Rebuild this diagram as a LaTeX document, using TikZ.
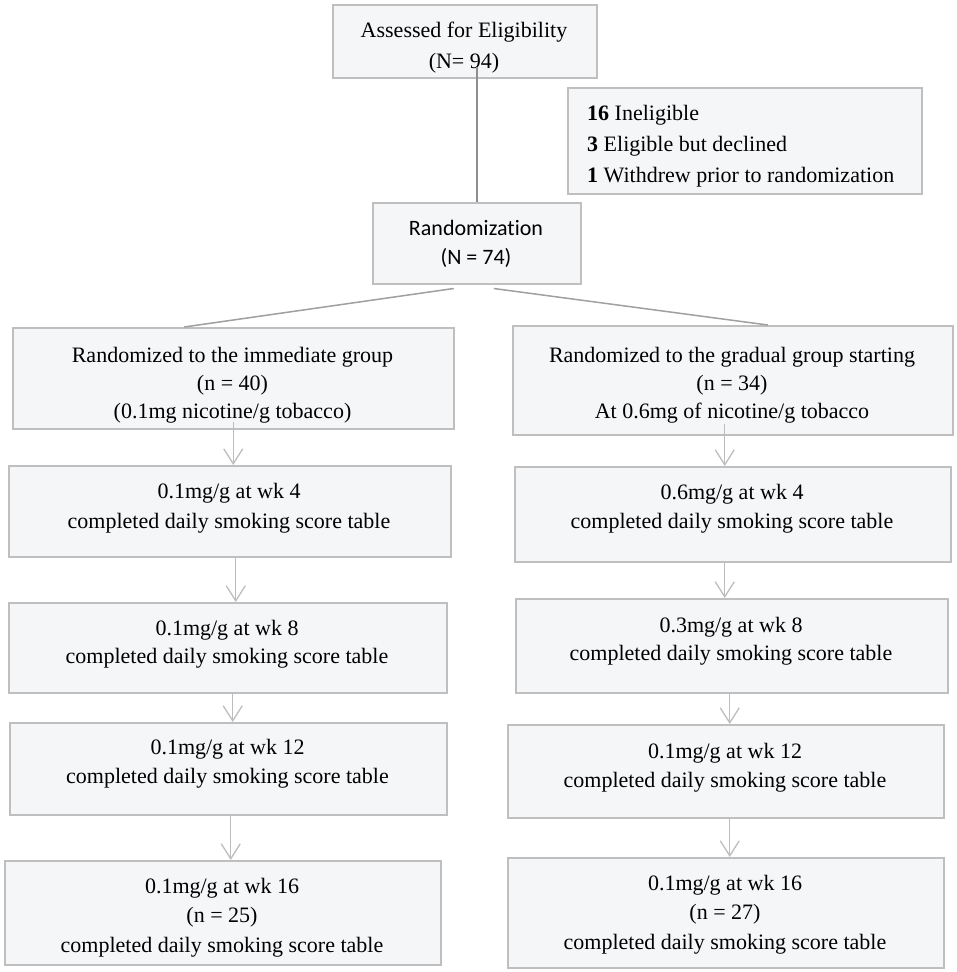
\documentclass[tikz,border=0pt]{standalone}
\usepackage{fontspec}
\setmainfont{Liberation Serif}
\newfontfamily\carlitofont[Ligatures=NoCommon]{Carlito}
\usetikzlibrary{arrows.meta}
\definecolor{boxfill}{HTML}{F5F6F8}
\definecolor{boxline}{HTML}{BFBFBF}
\definecolor{linkdark}{HTML}{8E8E8E}
\definecolor{linkmid}{HTML}{A0A0A0}
\definecolor{arrowgray}{HTML}{BDBDBD}
\newcommand\flowbox[5]{\node[box, minimum width={#4-#2}, minimum height={#5-#3}] (#1) at (#2,#3) {};}
\begin{document}
\begin{tikzpicture}[x=1pt,y=-1pt,
  box/.style={draw=boxline, fill=boxfill, line width=1.5pt, rectangle, inner sep=0pt, anchor=north west},
  txt/.style={inner sep=0pt, anchor=north, align=center, font=\fontsize{22}{#1}\selectfont},
  txt/.default=29,
  arr/.style={draw=arrowgray, line width=1.3pt, -{Straight Barb[length=15pt,width=19pt]}},
  joinline/.style={draw=linkmid, line width=1.5pt}
]
\useasboundingbox (0,0) rectangle (957,972);
% boxes
\flowbox{top}{332}{4}{596}{77}
\flowbox{excl}{567}{87}{921}{193}
\flowbox{rand}{372}{202}{580}{283}
\flowbox{L1}{12}{327}{453}{428}
\flowbox{R1}{512}{325}{952}{434}
\flowbox{L2}{8}{465}{450}{556}
\flowbox{R2}{514}{466}{950}{561}
\flowbox{L3}{8}{602}{446}{692}
\flowbox{R3}{515}{598}{947}{692}
\flowbox{L4}{9}{722}{446}{814}
\flowbox{R4}{507}{724}{943}{817}
\flowbox{L5}{4}{860}{440}{964}
\flowbox{R5}{507}{857}{943}{967}
% texts
\node[txt=31] (ttop) at (464,22) {Assessed for Eligibility\\(N= 94)};
\node[txt=31, anchor=north west, align=left] (texcl) at (587,105) {\textbf{16} Ineligible\\\textbf{3} Eligible but declined\\\textbf{1} Withdrew prior to randomization};
\node[txt=29, font=\carlitofont\fontsize{22}{29}\selectfont] (trand) at (476,220) {Randomization\\(N = 74)};
\node[txt=28] (tL1) at (232.5,347) {Randomized to the immediate group\\(n = 40)\\(0.1mg nicotine/g tobacco)};
\node[txt=28] (tR1) at (732,347) {Randomized to the gradual group starting\\(n = 34)\\At 0.6mg of nicotine/g tobacco};
\node[txt=30] (tL2) at (229,483) {0.1mg/g at wk 4\\completed daily smoking score table};
\node[txt=29] (tR2) at (732,484) {0.6mg/g at wk 4\\completed daily smoking score table};
\node[txt=28] (tL3) at (227,620) {0.1mg/g at wk 8\\completed daily smoking score table};
\node[txt=28] (tR3) at (731,617) {0.3mg/g at wk 8\\completed daily smoking score table};
\node[txt=29] (tL4) at (227.5,739) {0.1mg/g at wk 12\\completed daily smoking score table};
\node[txt=29] (tR4) at (725,743) {0.1mg/g at wk 12\\completed daily smoking score table};
\node[txt=29.5] (tL5) at (222,878) {0.1mg/g at wk 16\\(n = 25)\\completed daily smoking score table};
\node[txt=29.5] (tR5) at (725,875) {0.1mg/g at wk 16\\(n = 27)\\completed daily smoking score table};
% connectors
\draw[draw=linkdark, line width=2pt] ([yshift=12pt]top.south -| rand.north) -- (rand.north);
\draw[joinline] ([xshift=-23pt,yshift=-4pt]rand.south) -- ([xshift=-49pt]L1.north);
\draw[joinline] ([xshift=17pt,yshift=-4pt]rand.south) -- ([xshift=35pt]R1.north);
\draw[arr] ([yshift=8pt]L1.south) -- (L1.south |- L2.north);
\draw[arr] ([xshift=6pt]L2.south) -- ([xshift=6pt]L2.south |- L3.north);
\draw[arr] ([xshift=5pt]L3.south) -- ([xshift=5pt]L3.south |- L4.north);
\draw[arr] ([xshift=2.5pt]L4.south) -- ([xshift=2.5pt]L4.south |- L5.north);
\draw[arr] ([xshift=-8pt,yshift=12pt]R1.south) -- ([xshift=-8pt]R1.south |- R2.north);
\draw[arr] ([xshift=-8pt]R2.south) -- ([xshift=-8pt]R2.south |- R3.north);
\draw[arr] ([xshift=-2pt]R3.south) -- ([xshift=-2pt]R3.south |- R4.north);
\draw[arr] ([xshift=4pt]R4.south) -- ([xshift=4pt]R4.south |- R5.north);
\end{tikzpicture}
\end{document}
